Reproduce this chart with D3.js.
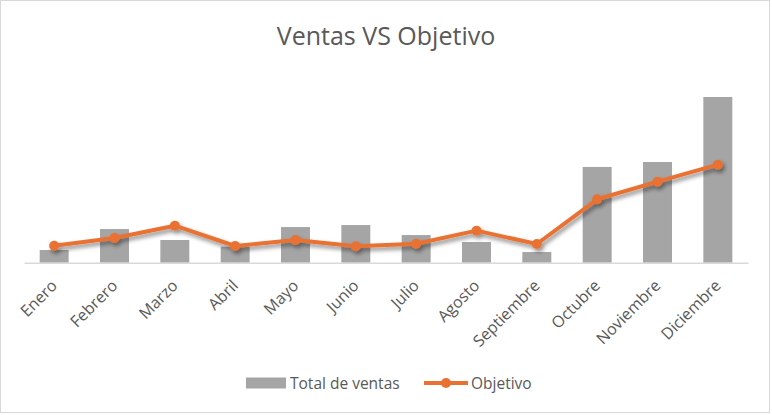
<!DOCTYPE html>
<html>
<head>
<meta charset="utf-8">
<script src="https://cdn.jsdelivr.net/npm/d3@7"></script>
<style>
    body { margin: 0; background: #fff; }
    .chart text { font-family: "Open Sans", "Noto Sans", sans-serif; fill: #595959; }
</style>
</head>
<body>
<div class="chart"></div>
<script>
// Data
var months = ['Enero', 'Febrero', 'Marzo', 'Abril', 'Mayo', 'Junio',
    'Julio', 'Agosto', 'Septiembre', 'Octubre', 'Noviembre', 'Diciembre'];
var ventas = [133, 353, 238, 168, 374, 395, 290, 217, 112, 1004, 1056, 1738];
var objetivo = [178, 259, 388, 175, 238, 172, 199, 336, 196, 665, 850, 1028];

var W = 772, H = 415;
var margin = { top: 72, bottom: 152.3, left: 24, right: 24 };

var svg = d3.select('.chart').append('svg')
    .attr('width', W)
    .attr('height', H);

// chart frame
svg.append('rect')
    .attr('x', 0.5).attr('y', 0.5)
    .attr('width', W - 3).attr('height', H - 3)
    .attr('fill', '#fff')
    .attr('stroke', '#d9d9d9');

var defs = svg.append('defs');
var shadow = defs.append('filter').attr('id', 'shadow')
    .attr('x', '-10%').attr('y', '-30%').attr('width', '130%').attr('height', '180%');
shadow.append('feDropShadow')
    .attr('dx', 2).attr('dy', 3)
    .attr('stdDeviation', 2)
    .attr('flood-color', '#000')
    .attr('flood-opacity', 0.45);

var x = d3.scaleBand()
    .domain(months)
    .range([margin.left, W - margin.right])
    .paddingInner(0.52)
    .paddingOuter(0.26);

var y = d3.scaleLinear()
    .domain([0, 2000])
    .range([H - margin.bottom, margin.top]);

svg.append('text')
    .attr('x', W / 2)
    .attr('y', 45)
    .attr('text-anchor', 'middle')
    .style('font-size', '25px')
    .text('Ventas VS Objetivo');

// bars
svg.append('g')
    .selectAll('rect')
    .data(ventas)
    .enter().append('rect')
    .attr('x', (d, i) => x(months[i]))
    .attr('width', x.bandwidth())
    .attr('y', d => y(d))
    .attr('height', d => y(0) - y(d))
    .attr('fill', '#a5a5a5');

// baseline axis
var xAxis = svg.append('g')
    .attr('transform', 'translate(0,' + y(0) + ')')
    .style('color', '#595959')
    .call(d3.axisBottom(x).tickSize(0).tickPadding(0));
xAxis.select('.domain').attr('stroke', '#d9d9d9').attr('stroke-width', 1.5);
xAxis.selectAll('.tick text')
    .attr('text-anchor', 'end')
    .attr('y', 0)
    .attr('dy', 0)
    .attr('transform', 'translate(4,24) rotate(-45)')
    .attr('fill', '#595959')
    .style('font-size', '16px')
    .style('font-family', '"Open Sans", sans-serif');

// objetivo line
var cx = (d, i) => x(months[i]) + x.bandwidth() / 2;
var line = d3.line().x(cx).y(d => y(d));

var lineG = svg.append('g').attr('filter', 'url(#shadow)');
lineG.append('path')
    .datum(objetivo)
    .attr('d', line)
    .attr('fill', 'none')
    .attr('stroke', '#e97132')
    .attr('stroke-width', 4)
    .attr('stroke-linejoin', 'round');
lineG.selectAll('circle')
    .data(objetivo)
    .enter().append('circle')
    .attr('cx', cx)
    .attr('cy', d => y(d))
    .attr('r', 5)
    .attr('fill', '#e97132');

// legend
var legend = svg.append('g').attr('transform', 'translate(0,383)');
legend.append('rect')
    .attr('x', 246).attr('y', -5.5)
    .attr('width', 40).attr('height', 11)
    .attr('fill', '#a5a5a5');
legend.append('text')
    .attr('x', 290).attr('y', 5.5)
    .style('font-size', '15.5px')
    .text('Total de ventas');
legend.append('line')
    .attr('x1', 424).attr('x2', 468)
    .attr('stroke', '#e97132').attr('stroke-width', 4);
legend.append('circle')
    .attr('cx', 446).attr('r', 5)
    .attr('fill', '#e97132');
legend.append('text')
    .attr('x', 471).attr('y', 5.5)
    .style('font-size', '15.5px')
    .text('Objetivo');
</script>
</body>
</html>
